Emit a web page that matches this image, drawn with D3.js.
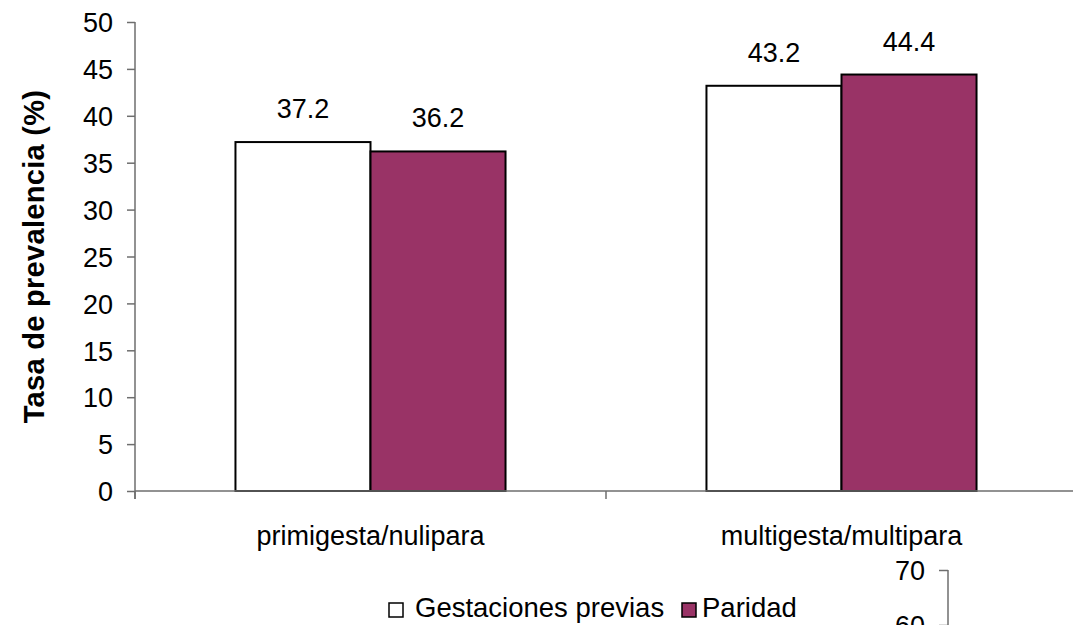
<!DOCTYPE html>
<html><head><meta charset="utf-8">
<script src="https://cdn.jsdelivr.net/npm/d3@7"></script>
<style>
html,body{margin:0;padding:0;background:#fff;overflow:hidden;}
text{font-family:"Liberation Sans",Arial,sans-serif;fill:#000;}
</style></head>
<body>
<svg id="chart" width="1073" height="625"></svg>
<script>
const categories = ["primigesta/nulipara", "multigesta/multipara"];
const seriesNames = ["Gestaciones previas", "Paridad"];
const gestacionesPrevias = [37.2, 43.2];
const paridad = [36.2, 44.4];
const yTicks = [0, 5, 10, 15, 20, 25, 30, 35, 40, 45, 50];
const yTitle = "Tasa de prevalencia (%)";
const fragTicks = [60, 70];

(function () {
const colors = ["#ffffff", "#993366"];
const axisColor = "#6e6e6e";
const fs = 27;

const svg = d3.select("#chart");
const pL = 135, pR = 1077, pT = 22, pB = 491;

const x0 = d3.scaleBand().domain(categories).range([pL, pR]).paddingInner(0).paddingOuter(0);
const x1 = d3.scaleBand().domain(seriesNames).range([0, x0.bandwidth()]).paddingInner(0).paddingOuter(0.744);
const y = d3.scaleLinear().domain([0, 50]).range([pB, pT]);

const series = [gestacionesPrevias, paridad];
const data = [];
categories.forEach((c, i) => series.forEach((s, j) => data.push({c, name: seriesNames[j], v: s[i], j})));

// bars
svg.append("g").selectAll("rect").data(data).join("rect")
  .attr("x", d => x0(d.c) + x1(d.name))
  .attr("y", d => y(d.v))
  .attr("width", x1.bandwidth())
  .attr("height", d => y(0) - y(d.v))
  .attr("fill", d => colors[d.j])
  .attr("stroke", "#000").attr("stroke-width", 2);

// value labels
svg.append("g").selectAll("text").data(data).join("text")
  .attr("x", d => x0(d.c) + x1(d.name) + x1.bandwidth() / 2)
  .attr("y", d => y(d.v) - 24)
  .attr("text-anchor", "middle").attr("font-size", fs)
  .text(d => d.v.toFixed(1));

// y axis
const yAxis = svg.append("g").attr("transform", `translate(${pL},0)`)
  .call(d3.axisLeft(y).tickValues(yTicks).tickSize(8).tickPadding(14).tickSizeOuter(0));
yAxis.select(".domain").attr("stroke", axisColor).attr("stroke-width", 1.5)
  .attr("d", `M0,${pT}V${pB + 8}`);
yAxis.selectAll(".tick line").attr("stroke", axisColor).attr("stroke-width", 1.5);
yAxis.selectAll(".tick text").attr("font-size", fs).attr("font-family", "Liberation Sans, Arial, sans-serif").attr("fill", "#000").attr("dy", "0.36em");

// x axis
const xg = svg.append("g");
xg.append("line").attr("x1", pL).attr("x2", pR).attr("y1", pB).attr("y2", pB)
  .attr("stroke", axisColor).attr("stroke-width", 1.5);
const bounds = categories.map(c => x0(c)).concat([pR]);
xg.selectAll("line.t").data(bounds).join("line").attr("class", "t")
  .attr("x1", d => d).attr("x2", d => d).attr("y1", pB).attr("y2", pB + 8)
  .attr("stroke", axisColor).attr("stroke-width", 1.5);
xg.selectAll("text").data(categories).join("text")
  .attr("x", d => x0(d) + x0.bandwidth() / 2).attr("y", 545)
  .attr("text-anchor", "middle").attr("font-size", fs).text(d => d);

// y title
svg.append("text")
  .attr("transform", `translate(44,${(pT + pB) / 2}) rotate(-90)`)
  .attr("text-anchor", "middle").attr("font-size", 29).attr("font-weight", "bold")
  .attr("letter-spacing", 0.3)
  .text(yTitle);

// legend
const leg = svg.append("g");
const legItems = [{x: 389, tx: 415}, {x: 682, tx: 702}];
seriesNames.forEach((n, i) => {
  leg.append("rect").attr("x", legItems[i].x).attr("y", 603).attr("width", 14).attr("height", 14)
    .attr("fill", colors[i]).attr("stroke", "#000").attr("stroke-width", 1.5);
  leg.append("text").attr("x", legItems[i].tx).attr("y", 617).attr("font-size", 27.5).text(n);
});

// fragment of another chart at bottom right
const yf = d3.scaleLinear().domain([60, 70]).range([625, 570]);
const fg = svg.append("g").attr("transform", "translate(948,0)");
fg.call(d3.axisLeft(yf).tickValues(fragTicks).tickSize(9).tickPadding(14).tickSizeOuter(0));
fg.select(".domain").attr("stroke", axisColor).attr("stroke-width", 1.5).attr("d", "M0,570V640");
fg.selectAll(".tick line").attr("stroke", axisColor).attr("stroke-width", 1.5);
fg.selectAll(".tick text").attr("font-size", fs).attr("font-family", "Liberation Sans, Arial, sans-serif").attr("fill", "#000").attr("dy", "0.36em");
})();
</script>
</body></html>
